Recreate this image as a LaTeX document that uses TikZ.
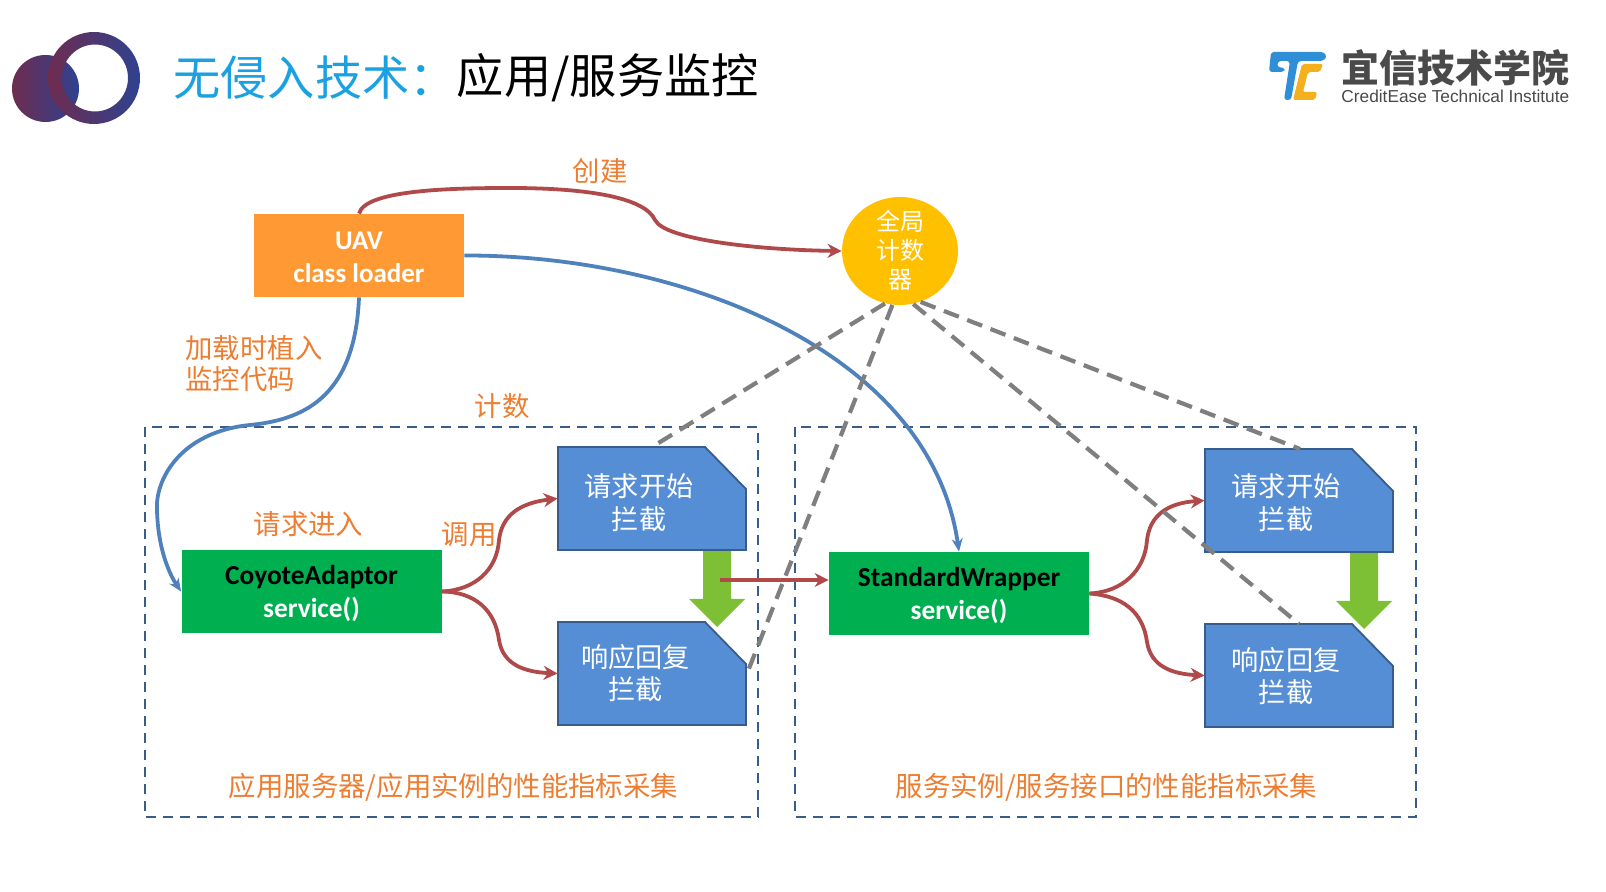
\documentclass[tikz,border=0pt]{standalone}
\usepackage{fontspec}
\setmainfont{Carlito}
\newfontfamily\cjk{Noto Sans CJK SC}
\newfontfamily\lat{Liberation Sans}
\usetikzlibrary{arrows.meta,shapes.geometric,calc}
\definecolor{lblorange}{HTML}{ED7D31}
\definecolor{uavorange}{HTML}{FF9933}
\definecolor{gboxc}{HTML}{00B050}
\definecolor{docblue}{HTML}{558ED5}
\definecolor{docedge}{HTML}{385D8A}
\definecolor{dashblue}{HTML}{385D8A}
\definecolor{curveblue}{HTML}{4F81BD}
\definecolor{curvered}{HTML}{B04A4A}
\definecolor{dgray}{HTML}{7F7F7F}
\definecolor{garrow}{HTML}{7DBF35}
\definecolor{ttlblue}{HTML}{1BA1E2}
\definecolor{lgdark}{HTML}{4A4A4A}
\definecolor{tcblue}{HTML}{2E8FD6}
\definecolor{tcorange}{HTML}{F5B01E}
\definecolor{ctrc}{HTML}{FFC000}
\definecolor{ringa}{HTML}{6E2C50}
\definecolor{ringb}{HTML}{2E4290}
\newcommand{\fz}[2]{\fontsize{#1pt}{#2pt}\selectfont}
\newcommand{\dn}[1]{\raisebox{-1pt}[\height][\depth]{#1}}
\tikzset{
 x=0.5pt,y=-0.5pt,
 lbl/.style={text=lblorange,inner sep=0pt,font=\cjk\fz{13.7}{15.4}},
 gboxs/.style={fill=gboxc,minimum width=130pt,minimum height=41.5pt,inner sep=0pt,align=center},
 region/.style={draw=dashblue,line width=1.25pt,dash pattern=on 5pt off 3.5pt},
 redc/.style={draw=curvered,line width=1.9pt,-{Stealth[length=7pt,width=7pt]}},
 bluec/.style={draw=curveblue,line width=1.9pt,-{Stealth[length=6.5pt,width=5.5pt]}},
 gdash/.style={draw=dgray,line width=2.1pt,dash pattern=on 8pt off 4.5pt},
 doc/.style={minimum width=94pt,minimum height=51.5pt,inner sep=0pt},
 doctxt/.style={text=white,inner sep=0pt,align=center,font=\cjk\fz{13.6}{16.4}},
}
% name, left, top : snipped blue document shape with its node on top
\newcommand{\docshape}[3]{%
 \fill[docblue,draw=docedge,line width=0.9pt] (#2,#3) -- ++(147,0) -- ++(41,42) -- ++(0,61) -- ++(-188,0) -- cycle;
 \node[doc] (#1) at ({#2+94},{#3+51.5}) {};}
\newcommand{\garr}[2]{% top centre x,y of the thick green down arrow
 \fill[garrow] ({#1-14},#2) -- ({#1+14},#2) -- ({#1+14},{#2+48}) -- ({#1+28},{#2+48}) -- (#1,{#2+76}) -- ({#1-28},{#2+48}) -- ({#1-14},{#2+48}) -- cycle;}
\begin{document}
\begin{tikzpicture}
\useasboundingbox (0,0) rectangle (1606,892);
% logo
\shade[left color=ringa,right color=ringb] (45.5,88.5) circle [radius=33.5];
\shade[left color=ringa,right color=ringb,even odd rule] (94,78) circle [radius=46] (95,78) ellipse [x radius=33,y radius=33.5];
% title
\node[anchor=west,inner sep=0pt,text=ttlblue,font=\cjk\fz{23.6}{28}] (t1) at (173,78) {无侵入技术：};
\node[anchor=west,inner sep=0pt,text=black,font=\cjk\fz{23.6}{28}] (t2) at (456.5,78) {应用/服务监控};
% TC logo
\fill[tcblue,rounded corners=1.5pt] (1271,52) -- (1324,52) -- (1327,57) -- (1323,61) -- (1298,61) -- (1291,100) -- (1284,100) -- (1290,61) -- (1278,61) -- (1277,67) -- (1285,68) -- (1284,72) -- (1269,72) -- cycle;
\fill[tcorange,rounded corners=1pt] (1302,64) -- (1323,64) -- (1320,72) -- (1308,72) -- (1303,92) -- (1317,92) -- (1315,100) -- (1293,100) -- cycle;
\node[anchor=west,inner sep=0pt,text=lgdark,font=\cjk\bfseries\fz{19}{22}] (lg1) at (1341,67.5) {宜信技术学院};
\node[anchor=west,inner sep=0pt,text=lgdark,font=\lat\fz{8.65}{10}] (lg2) at (1341,96.5) {CreditEase Technical Institute};
% regions
\draw[region] (145,427) rectangle (758,817);
\draw[region] (795,427) rectangle (1416,817);
% green arrows below documents
\garr{717}{551}
\garr{1364}{553}
% boxes
\node[fill=uavorange,minimum width=105pt,minimum height=41.5pt,inner sep=0pt,align=center,text=white,font=\bfseries\fz{13.5}{16.4}] (uav) at (359,255.5) {\dn{UAV}\\\dn{class loader}};
\node[ellipse,fill=ctrc,minimum width=58pt,minimum height=54pt,inner sep=0pt] (ctr) at (900,251) {};
\node[doctxt,font=\cjk\fz{12}{14.6}] (ctrt) at (900,250) {全局\\计数\\器};
\node[gboxs,font=\bfseries\fz{13.7}{16.4}] (cg) at (311.5,591.5) {\dn{\textcolor{black}{CoyoteAdaptor}}\\\dn{\textcolor{white}{service()}}};
\node[gboxs,font=\bfseries\fz{13.7}{16.4}] (sw) at (959,593.5) {\dn{\textcolor{black}{StandardWrapper}}\\\dn{\textcolor{white}{service()}}};
\docshape{a1}{558}{447}
\docshape{a2}{558}{622}
\docshape{b1}{1205}{449}
\docshape{b2}{1205}{624}
\node[doctxt] (a1t) at (639,503) {请求开始\\拦截};
\node[doctxt] (a2t) at (635.5,673) {响应回复\\拦截};
\node[doctxt] (b1t) at (1286,503) {请求开始\\拦截};
\node[doctxt] (b2t) at (1286,676) {响应回复\\拦截};
% labels
\node[lbl] (l1) at (600,171) {创建};
\node[lbl,anchor=west,align=left] (l2) at (185,363.5) {加载时植入\\监控代码};
\node[lbl] (l3) at (502,406) {计数};
\node[lbl] (l4) at (308.5,524) {请求进入};
\node[lbl] (l5) at (469,534) {调用};
\node[lbl] (l6) at (453.5,787.5) {应用服务器/应用实例的性能指标采集};
\node[lbl] (l7) at (1106.5,787.5) {服务实例/服务接口的性能指标采集};
% connectors
\draw[redc] (uav.north) .. controls (365,190) and (450,188) .. (510,188) .. controls (590,188) and (645,198) .. (655,220) .. controls (665,240) and (760,250) .. (ctr.west);
\draw[bluec] (uav.east) .. controls (680,255) and (930,350) .. (sw.north);
\draw[bluec] (uav.south) .. controls (355,400) and (300,420) .. (250,425) .. controls (180,432) and (155,480) .. (157,510) .. controls (158,550) and (170,575) .. (cg.west);
\draw[redc] (cg.east) .. controls (475,590) and (497,570) .. (499,540) .. controls (502,515) and (520,503) .. (a1.west);
\draw[redc] (cg.east) .. controls (475,592) and (495,610) .. (499,640) .. controls (503,665) and (525,672) .. (a2.west);
\draw[redc] (sw.east) .. controls (1123,592) and (1145,570) .. (1147,540) .. controls (1150,515) and (1168,503) .. (b1.west);
\draw[redc] (sw.east) .. controls (1123,596) and (1143,612) .. (1147,642) .. controls (1151,667) and (1173,674) .. (b2.west);
\coordinate (rs) at (720,580);
\draw[redc] (rs) -- (rs -| sw.west);
\draw[gdash] (ctr.-106) -- (652,447);
\draw[gdash] (ctr.-98) -- (748,671);
\draw[gdash] (ctr.-76) -- (1299,624);
\draw[gdash] (ctr.-68) -- (1300,449);
\end{tikzpicture}
\end{document}
